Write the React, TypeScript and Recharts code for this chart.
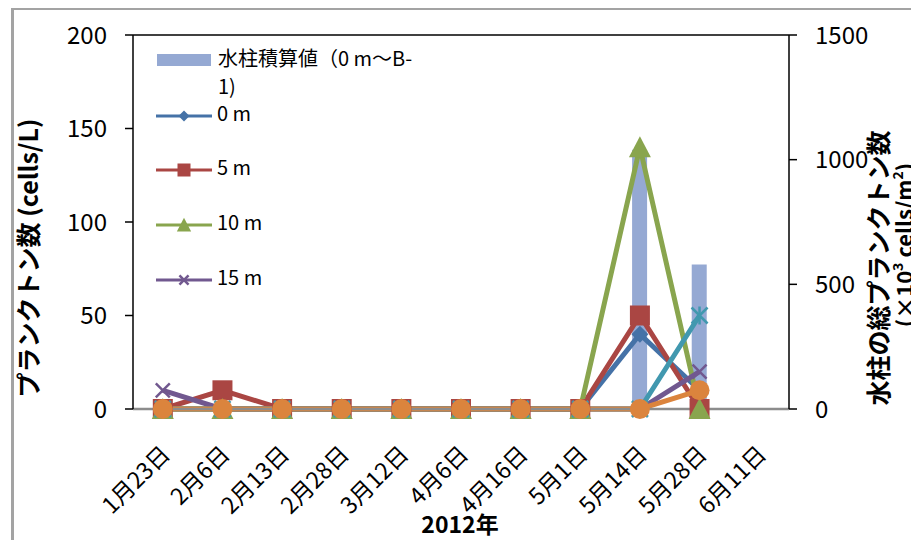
import { ComposedChart, Bar, Line, XAxis, YAxis, ReferenceLine } from "recharts"

const categories = [
  "1月23日", "2月6日", "2月13日", "2月28日", "3月12日", "4月6日",
  "4月16日", "5月1日", "5月14日", "5月28日", "6月11日",
]
const columnTotal = [0, 0, 0, 0, 0, 0, 0, 0, 1040, 580, null]
const depth0 = [0, 0, 0, 0, 0, 0, 0, 0, 40, 10, null]
const depth5 = [0, 10, 0, 0, 0, 0, 0, 0, 50, 0, null]
const depth10 = [0, 0, 0, 0, 0, 0, 0, 0, 140, 0, null]
const depth15 = [10, 0, 0, 0, 0, 0, 0, 0, 0, 20, null]
const depth20 = [0, 0, 0, 0, 0, 0, 0, 0, 0, 50, null]
const depthB1 = [0, 0, 0, 0, 0, 0, 0, 0, 0, 10, null]

const leftTicks = [0, 50, 100, 150, 200]
const rightTicks = [0, 500, 1000, 1500]

const data = categories.map((date, i) => ({
  date,
  total: columnTotal[i],
  d0: depth0[i],
  d5: depth5[i],
  d10: depth10[i],
  d15: depth15[i],
  d20: depth20[i],
  b1: depthB1[i],
}))

const FONT = "'Noto Sans CJK JP', 'Noto Sans', sans-serif"
const BAR = "#95A9D3"
const BLUE = "#4572A7"
const RED = "#AA4643"
const GREEN = "#89A54E"
const PURPLE = "#71588F"
const CYAN = "#4198AF"
const ORANGE = "#DB843D"

function marker(shape: string, color: string, cx: number, cy: number, s = 1) {
  switch (shape) {
    case "diamond":
      return <path d={`M${cx},${cy - 8.5 * s}L${cx + 8.5 * s},${cy}L${cx},${cy + 8.5 * s}L${cx - 8.5 * s},${cy}Z`} fill={color} />
    case "square":
      return <rect x={cx - 10 * s} y={cy - 10 * s} width={20 * s} height={20 * s} fill={color} />
    case "triangle":
      return <path d={`M${cx},${cy - 11 * s}L${cx + 11 * s},${cy + 10 * s}L${cx - 11 * s},${cy + 10 * s}Z`} fill={color} />
    case "x":
      return (
        <g stroke={color} strokeWidth={2.5}>
          <line x1={cx - 7 * s} y1={cy - 7 * s} x2={cx + 7 * s} y2={cy + 7 * s} />
          <line x1={cx - 7 * s} y1={cy + 7 * s} x2={cx + 7 * s} y2={cy - 7 * s} />
        </g>
      )
    case "star":
      return (
        <g stroke={color} strokeWidth={2.5}>
          <line x1={cx - 8} y1={cy - 8} x2={cx + 8} y2={cy + 8} />
          <line x1={cx - 8} y1={cy + 8} x2={cx + 8} y2={cy - 8} />
          <line x1={cx} y1={cy - 9} x2={cx} y2={cy + 9} />
        </g>
      )
    default:
      return <circle cx={cx} cy={cy} r={10 * s} fill={color} />
  }
}

const makeDot = (shape: string, color: string) => (props: any) => {
  const { cx, cy, index, value } = props
  if (cx == null || cy == null || value == null) return <g key={`${shape}-${index}`} />
  return <g key={`${shape}-${index}`}>{marker(shape, color, cx, cy)}</g>
}

const XTick = (props: any) => {
  const { x, payload } = props
  const px = x + 3
  const py = 450
  return (
    <text
      x={px}
      y={py}
      dy="0.35em"
      textAnchor="end"
      transform={`rotate(-45 ${px} ${py})`}
      fontSize={23}
      fontFamily={FONT}
      fill="#000"
    >
      {payload.value}
    </text>
  )
}

const legendRows = [
  { name: "0 m", color: BLUE, shape: "diamond", y: 116 },
  { name: "5 m", color: RED, shape: "square", y: 170 },
  { name: "10 m", color: GREEN, shape: "triangle", y: 225 },
  { name: "15 m", color: PURPLE, shape: "x", y: 280 },
]

export default function App() {
  const lines = [
    { key: "d0", name: "0 m", color: BLUE, shape: "diamond" },
    { key: "d5", name: "5 m", color: RED, shape: "square" },
    { key: "d10", name: "10 m", color: GREEN, shape: "triangle" },
    { key: "d15", name: "15 m", color: PURPLE, shape: "x" },
    { key: "d20", name: "20 m", color: CYAN, shape: "star" },
    { key: "b1", name: "B-1", color: ORANGE, shape: "circle" },
  ]

  return (
    <div style={{ position: "relative", width: 919, height: 548, margin: -8, overflow: "hidden", background: "#fff", fontFamily: FONT }}>
      <div
        style={{
          position: "absolute",
          left: 11,
          top: 7,
          width: 1000,
          height: 1000,
          borderLeft: "3px solid #a3a3a3",
          borderTop: "3px solid #a3a3a3",
        }}
      />
      <div style={{ position: "absolute", left: 0, top: 0 }}>
        <ComposedChart width={919} height={548} data={data} margin={{ top: 35, right: 0, bottom: 0, left: 0 }}>
          <XAxis
            dataKey="date"
            height={139}
            interval={0}
            tickLine={false}
            axisLine={{ stroke: "#8c8c8c", strokeWidth: 2.5 }}
            tick={<XTick />}
          />
          <YAxis
            yAxisId="left"
            domain={[0, 200]}
            ticks={leftTicks}
            width={133}
            tickSize={8}
            tickMargin={18}
            axisLine={{ stroke: "#000", strokeWidth: 1.5 }}
            tickLine={{ stroke: "#000", strokeWidth: 1.5 }}
            tick={{ fill: "#000", fontSize: 24, fontFamily: FONT }}
          />
          <YAxis
            yAxisId="right"
            orientation="right"
            domain={[0, 1500]}
            ticks={rightTicks}
            width={130}
            tickSize={8}
            tickMargin={18}
            axisLine={{ stroke: "#000", strokeWidth: 1.5 }}
            tickLine={{ stroke: "#000", strokeWidth: 1.5 }}
            tick={{ fill: "#000", fontSize: 24, fontFamily: FONT }}
          />
          <ReferenceLine yAxisId="left" y={200} stroke="#000" strokeWidth={1.5} />
          <Bar yAxisId="right" dataKey="total" name="水柱積算値（0 m〜B-1)" fill={BAR} barSize={15} isAnimationActive={false} />
          {lines.map((l) => (
            <Line
              key={l.key}
              yAxisId="left"
              type="linear"
              dataKey={l.key}
              name={l.name}
              stroke={l.color}
              strokeWidth={5}
              dot={makeDot(l.shape, l.color)}
              activeDot={false}
              isAnimationActive={false}
            />
          ))}
        </ComposedChart>
      </div>
      <svg width={919} height={548} style={{ position: "absolute", left: 0, top: 0, pointerEvents: "none" }} fontFamily={FONT}>
        <rect x={157} y={54} width={54} height={12} fill={BAR} />
        <text x={218} y={61} dominantBaseline="middle" fontSize={20} fill="#000">水柱積算値（0 m〜B-</text>
        <text x={218} y={89} dominantBaseline="middle" fontSize={20} fill="#000">1)</text>
        {legendRows.map((r) => (
          <g key={r.name}>
            <line x1={156} x2={212} y1={r.y} y2={r.y} stroke={r.color} strokeWidth={3} />
            {marker(r.shape, r.color, 184, r.y, 0.65)}
            <text x={217} y={r.y} dominantBaseline="middle" fontSize={20} fill="#000">{r.name}</text>
          </g>
        ))}
        <text
          transform="translate(31 258) rotate(-90)"
          textAnchor="middle"
          dominantBaseline="middle"
          fontSize={25}
          fontWeight="bold"
          fill="#000"
        >
          プランクトン数 (cells/L)
        </text>
        <text
          transform="translate(881 268) rotate(-90)"
          textAnchor="middle"
          dominantBaseline="middle"
          fontSize={25}
          fontWeight="bold"
          fill="#000"
        >
          水柱の総プランクトン数
        </text>
        <text
          transform="translate(907 245) rotate(-90)"
          textAnchor="middle"
          dominantBaseline="middle"
          fontSize={22}
          fontWeight="bold"
          fill="#000"
        >
          (×10<tspan dy={-8} fontSize={14}>3</tspan>
          <tspan dy={8}> cells/m</tspan>
          <tspan dy={-8} fontSize={14}>2</tspan>
          <tspan dy={8}>)</tspan>
        </text>
        <text x={460} y={527} textAnchor="middle" dominantBaseline="middle" fontSize={23} fontWeight="bold" fill="#000">
          2012年
        </text>
      </svg>
    </div>
  )
}
